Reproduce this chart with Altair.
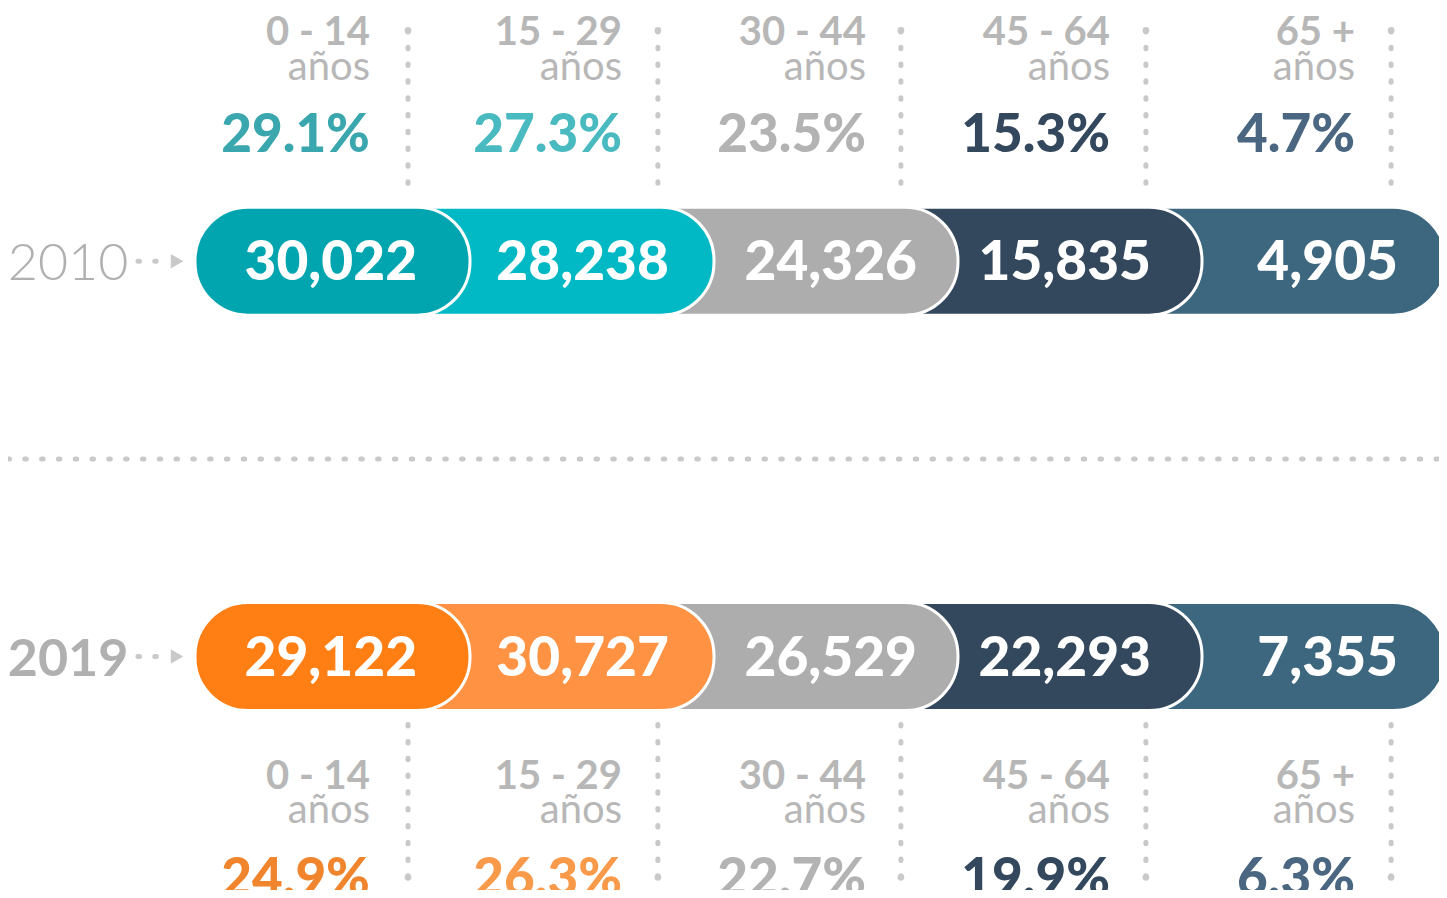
import altair as alt
import pandas as pd

# ---------------- data ----------------
years = ["2010", "2019"]
age_groups = ["0 - 14", "15 - 29", "30 - 44", "45 - 64", "65 +"]
age_unit = "años"
pop_2010 = [30022, 28238, 24326, 15835, 4905]
pop_2019 = [29122, 30727, 26529, 22293, 7355]
pct_2010 = [29.1, 27.3, 23.5, 15.3, 4.7]
pct_2019 = [24.9, 26.3, 22.7, 19.9, 6.3]

bar_colors_2010 = ["#00A5B0", "#00B9C4", "#ADADAD", "#33475D", "#3C677F"]
bar_colors_2019 = ["#FF7F15", "#FF9343", "#ADADAD", "#33475D", "#3C677F"]
pct_colors_2010 = ["#3AA6AD", "#4ABAC1", "#B3B3B3", "#33475D", "#4A6680"]
pct_colors_2019 = ["#F0852D", "#F9994A", "#B3B3B3", "#33475D", "#4A6680"]

# ---------------- layout ----------------
W, H = 1431, 882
FONT = "Lato"
GRAY_TXT = "#B7B7B7"
YEAR_GRAY = "#B0B0B0"
DOT = "#C9C9C9"
ROW_PX = 396.0      # pixels between the two rows
X_DOMAIN = [-0.8934, 4.9713]
Y_DOMAIN = [-0.6275, 1.5775]
PILL_START = -0.127
PILL_H = 108
LINE_K = [0.746, 0.770, 0.766, 0.770, 0.775]
LABEL_K = [0.590, 0.623, 0.623, 0.623, 0.627]
VALUE_K = [0.783, 0.815, 0.832, 0.791, 0.803]
YEAR_K = -0.40
# pixel offsets from the row centre
OFFSETS = {
    0: dict(age=-216, unit=-181, pct=-109, near=-63, far=-231, year=19, val=19),
    1: dict(age=133, unit=167, pct=240, near=63, far=221, year=19, val=19),
}

rows = {0: (pop_2010, pct_2010, bar_colors_2010, pct_colors_2010),
        1: (pop_2019, pct_2019, bar_colors_2019, pct_colors_2019)}

bar_recs, val_recs, age_recs, unit_recs, pct_recs, line_recs = [], [], [], [], [], []
for r, (pops, pcts, bcols, pcols) in rows.items():
    off = OFFSETS[r]
    for i in reversed(range(len(age_groups))):
        bar_recs.append(dict(row=r, start=PILL_START, end=i + 1, color=bcols[i]))
    for i, grp in enumerate(age_groups):
        val_recs.append(dict(x=i + VALUE_K[i], y=r + off["val"] / ROW_PX,
                             text=f"{pops[i]:,}"))
        age_recs.append(dict(x=i + LABEL_K[i], y=r + off["age"] / ROW_PX, text=grp))
        unit_recs.append(dict(x=i + LABEL_K[i], y=r + off["unit"] / ROW_PX,
                              text=age_unit))
        pct_recs.append(dict(x=i + LABEL_K[i], y=r + off["pct"] / ROW_PX,
                             text=f"{pcts[i]:.1f}%", color=pcols[i]))
        line_recs.append(dict(x=i + LINE_K[i], y1=r + off["far"] / ROW_PX,
                              y2=r + off["near"] / ROW_PX))

bars_df = pd.DataFrame(bar_recs)
val_df = pd.DataFrame(val_recs)
age_df = pd.DataFrame(age_recs)
unit_df = pd.DataFrame(unit_recs)
pct_df = pd.DataFrame(pct_recs)
line_df = pd.DataFrame(line_recs)
year_df = pd.DataFrame(dict(row=[0, 1], text=years, x=[YEAR_K, YEAR_K],
                            y=[OFFSETS[0]["year"] / ROW_PX,
                               1 + OFFSETS[1]["year"] / ROW_PX]))
arrow_df = pd.DataFrame(dict(row=[0, 1], x1=[-0.3607] * 2, x2=[-0.2828] * 2,
                             xh=[-0.2008] * 2))
sep_df = pd.DataFrame(dict(row=[0.5]))

xs = alt.Scale(domain=X_DOMAIN, nice=False, zero=False)
ys = alt.Scale(domain=Y_DOMAIN, nice=False, zero=False, reverse=True)


def X(f):
    return alt.X(f, type="quantitative", scale=xs, axis=None)


def Y(f):
    return alt.Y(f, type="quantitative", scale=ys, axis=None)


dash = dict(strokeDash=[1.5, 15.3], strokeCap="round", strokeWidth=5, color=DOT)

sep = alt.Chart(sep_df).mark_rule(**dash).encode(
    y=Y("row"), x=alt.value(0), x2=alt.value("width"))

vlines = alt.Chart(line_df).mark_rule(**dash).encode(x=X("x"), y=Y("y1"), y2="y2")
vdots = alt.Chart(line_df).mark_circle(size=45, color=DOT, opacity=1).encode(
    x=X("x"), y=Y("y1"))

bars = alt.Chart(bars_df).mark_bar(
    size=PILL_H, cornerRadius=53, stroke="white", strokeWidth=3
).encode(x=X("start"), x2="end", y=Y("row"),
         color=alt.Color("color:N", scale=None))

values = alt.Chart(val_df).mark_text(
    font=FONT, fontSize=55, fontWeight=900, color="white",
    align="right", baseline="alphabetic"
).encode(x=X("x"), y=Y("y"), text="text:N")

ages = alt.Chart(age_df).mark_text(
    font=FONT, fontSize=40, fontWeight="bold", color=GRAY_TXT,
    align="right", baseline="alphabetic"
).encode(x=X("x"), y=Y("y"), text="text:N")

units = alt.Chart(unit_df).mark_text(
    font=FONT, fontSize=40, fontWeight="normal", color=GRAY_TXT,
    align="right", baseline="alphabetic"
).encode(x=X("x"), y=Y("y"), text="text:N")

pcts = alt.Chart(pct_df).mark_text(
    font=FONT, fontSize=53, fontWeight=900,
    align="right", baseline="alphabetic"
).encode(x=X("x"), y=Y("y"), text="text:N",
         color=alt.Color("color:N", scale=None))

year_light = alt.Chart(year_df[year_df.row == 0]).mark_text(
    font=FONT, fontSize=52, fontWeight=300, color=YEAR_GRAY,
    align="right", baseline="alphabetic"
).encode(x=X("x"), y=Y("y"), text="text:N")
year_bold = alt.Chart(year_df[year_df.row == 1]).mark_text(
    font=FONT, fontSize=52, fontWeight="bold", color=YEAR_GRAY,
    align="right", baseline="alphabetic"
).encode(x=X("x"), y=Y("y"), text="text:N")

arrow_dots = alt.Chart(arrow_df).mark_rule(
    strokeDash=[1.5, 15.3], strokeCap="round", strokeWidth=5, color=DOT
).encode(x=X("x1"), x2="x2", y=Y("row"))
arrow_head = alt.Chart(arrow_df).mark_point(
    shape="triangle-right", size=210, filled=True, color=DOT, opacity=1
).encode(x=X("xh"), y=Y("row"))

chart = alt.layer(
    sep, vlines, vdots, bars, values, ages, units, pcts,
    year_light, year_bold, arrow_dots, arrow_head
).properties(
    width=W, height=H, autosize=alt.AutoSizeParams(type="none"), padding=0
).configure_view(stroke=None)

chart.save("out.html", embed_options={"renderer": "svg", "actions": False})
